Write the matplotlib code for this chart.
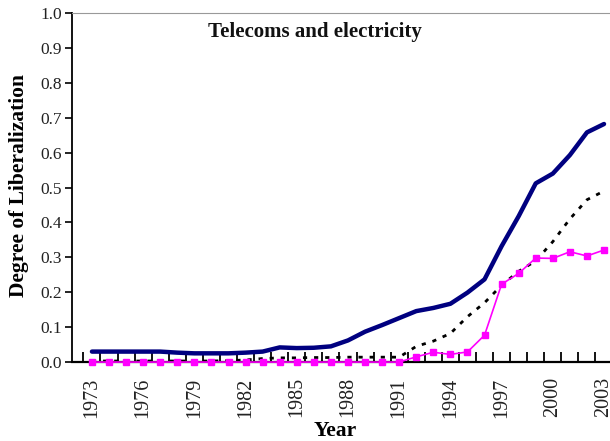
import matplotlib
matplotlib.use("Agg")
import matplotlib.pyplot as plt
import numpy as np

plt.rcParams['font.family'] = ['Liberation Serif', 'DejaVu Serif']

years = np.arange(1973, 2004)

# solid navy line
telecom_elec = [0.030, 0.030, 0.030, 0.030, 0.030, 0.027, 0.025, 0.025, 0.025, 0.027,
                0.030, 0.042, 0.040, 0.041, 0.045, 0.062, 0.087, 0.106, 0.126, 0.146,
                0.155, 0.167, 0.199, 0.237, 0.332, 0.418, 0.512, 0.540, 0.593, 0.658,
                0.682]
# dotted black line
dotted_series = [0.003, 0.003, 0.003, 0.003, 0.003, 0.003, 0.003, 0.003, 0.004, 0.006,
                 0.010, 0.012, 0.012, 0.013, 0.013, 0.014, 0.014, 0.014, 0.014, 0.045,
                 0.060, 0.082, 0.130, 0.170, 0.220, 0.260, 0.290, 0.345, 0.410, 0.465,
                 0.490]
# magenta line with squares
square_series = [0.0, 0.0, 0.0, 0.0, 0.0, 0.0, 0.0, 0.0, 0.0, 0.0,
                 0.0, 0.0, 0.0, 0.0, 0.0, 0.0, 0.0, 0.0, 0.0, 0.015,
                 0.028, 0.022, 0.029, 0.077, 0.223, 0.254, 0.298, 0.297, 0.316, 0.304,
                 0.321]

tick_years = np.arange(1973, 2004, 3)

fig = plt.figure(figsize=(6.1, 4.41), dpi=100)
ax = fig.add_axes([0.118, 0.179, 0.882, 0.7915])

ax.plot(years, dotted_series, color='black', lw=2, ls=(0, (1.5, 2.5)), zorder=2)
ax.plot(years, square_series, color='#ff00ff', lw=1.2, marker='s', ms=4.5,
        zorder=3, clip_on=False)
ax.plot(years, telecom_elec, color='#000080', lw=3.2, zorder=4, solid_capstyle='round')

ax.set_xlim(1971.83, 2003.35)
ax.set_ylim(0, 1.0)
ax.set_yticks(np.arange(0, 1.01, 0.1))
ax.set_yticklabels(['%.1f' % v for v in np.arange(0, 1.01, 0.1)])
ax.set_xticks(tick_years)
ax.set_xticklabels([str(y) for y in tick_years], rotation=90)
ax.set_xticks(np.arange(1972.5, 2003.5, 1), minor=True)

ax.tick_params(axis='y', direction='out', length=5, width=1.2, labelsize=12.5,
               pad=2, labelcolor='#222222')
ax.tick_params(axis='x', which='major', length=0, labelsize=14.5, pad=11,
               labelcolor='#222222')
ax.tick_params(axis='x', which='minor', direction='in', length=7, width=1.3)

ax.spines['right'].set_visible(False)
ax.spines['top'].set_color('#999999')
ax.spines['left'].set_linewidth(1.3)
ax.spines['bottom'].set_linewidth(1.6)

ax.set_ylabel('Degree of Liberalization', fontsize=15.5, fontweight='bold', va='center')
ax.yaxis.set_label_coords(-0.0976, 0.505)
ax.set_xlabel('Year', fontsize=15.5, fontweight='bold', va='center')
ax.xaxis.set_label_coords(0.489, -0.198)
ax.text(0.452, 0.947, 'Telecoms and electricity', transform=ax.transAxes,
        ha='center', va='center', fontsize=15, fontweight='bold', color='#111111')

fig.savefig('out.png', dpi=100)
